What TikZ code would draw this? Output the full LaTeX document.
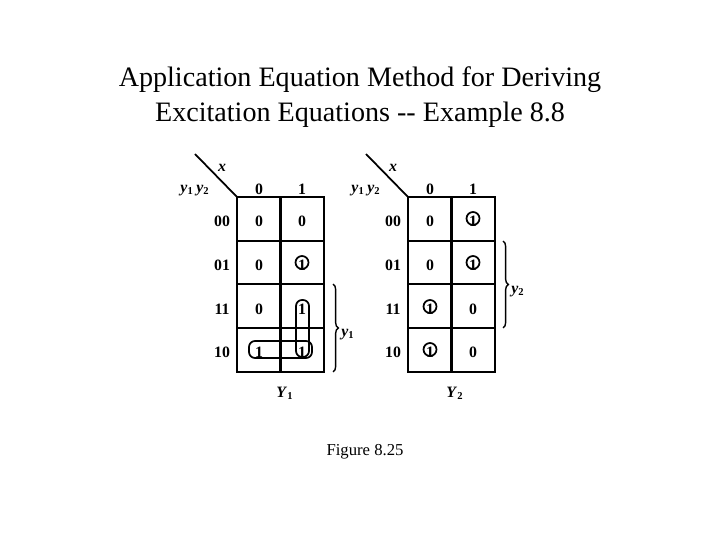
\documentclass[tikz,border=0pt]{standalone}
\usepackage{fontspec}
\setmainfont{Liberation Serif}
\usetikzlibrary{decorations.pathreplacing}
\newcommand{\vy}[2]{\textit{#1}\textsubscript{#2}}

\begin{document}
\begin{tikzpicture}[x=0.02cm, y=-0.02cm, every node/.style={font=\fontsize{9}{10}\selectfont\bfseries, inner sep=0pt}, grid/.style={line width=1.3pt}, loop/.style={draw, line width=1pt, rounded corners=0.12cm}, ring/.style={line width=1pt}, brc/.style={decorate, decoration={brace, amplitude=3pt}, line width=0.8pt}]
	\useasboundingbox (0,0) rectangle (720,540);
	\node[font=\fontsize{16}{20}\selectfont, align=center] (title) at (360,97) {Application Equation Method for Deriving\\Excitation Equations {-}{-} Example 8.8};
	% the two maps: name/left edge/entries row by row
	\foreach \m/\x/\e in {a/237/{0,0,0,1,0,1,1,1}, b/408/{0,1,0,1,1,0,1,0}} {
		\draw[grid] (\x,197) rectangle (\x+87,372);
		\draw[grid] (\x+43.5,197) -- (\x+43.5,372);
		\foreach \r in {241,284,328} \draw[grid] (\x,\r) -- (\x+87,\r);
		\coordinate (\m corner) at (\x,197);
		\coordinate (\m tail) at (\x-42,154);
		\draw[line width=1pt] (\m tail) -- (\m corner);
		\node (\m x) at (\x-15,168) {\textit{x}};
		\node (\m c0) at (\x+22,189) {0};
		\node (\m c1) at (\x+65,189) {1};
		\node (\m lbl) at (\x-42,191) {\vy{y}{1}\,\vy{y}{2}};
		\foreach \g/\y [count=\i from 0] in {00/221, 01/265, 11/309, 10/352} {
			\node (\m r\g) at (\x-15,\y) {\g};
			\pgfmathtruncatemacro{\p}{{\e}[\i*2]}
			\pgfmathtruncatemacro{\q}{{\e}[\i*2+1]}
			\node (\m\g0) at (\x+22,\y) {\p};
			\node (\m\g1) at (\x+65,\y) {\q};
		}
	}
	% circled ones
	\foreach \c in {a011, b001, b011, b110, b100}
		\draw[ring] ([yshift=0.05cm]\c) circle[radius=0.13cm];
	% loops of map Y1
	\draw[loop] (296,300) rectangle (309,357);
	\draw[loop] (249,341) rectangle (312,358);
	% braces
	\draw[brc] (333,284) -- (333,372);
	\node (ay) at (348,335) {\vy{y}{1}};
	\draw[brc] (503,241) -- (503,328);
	\node (by) at (518,292) {\vy{y}{2}};
	\node (aY) at (285,393) {\vy{Y}{1}};
	\node (bY) at (455,393) {\vy{Y}{2}};
	\node[font=\fontsize{9.5}{11}\selectfont] (fig) at (365,452) {Figure 8.25};
\end{tikzpicture}
\end{document}
